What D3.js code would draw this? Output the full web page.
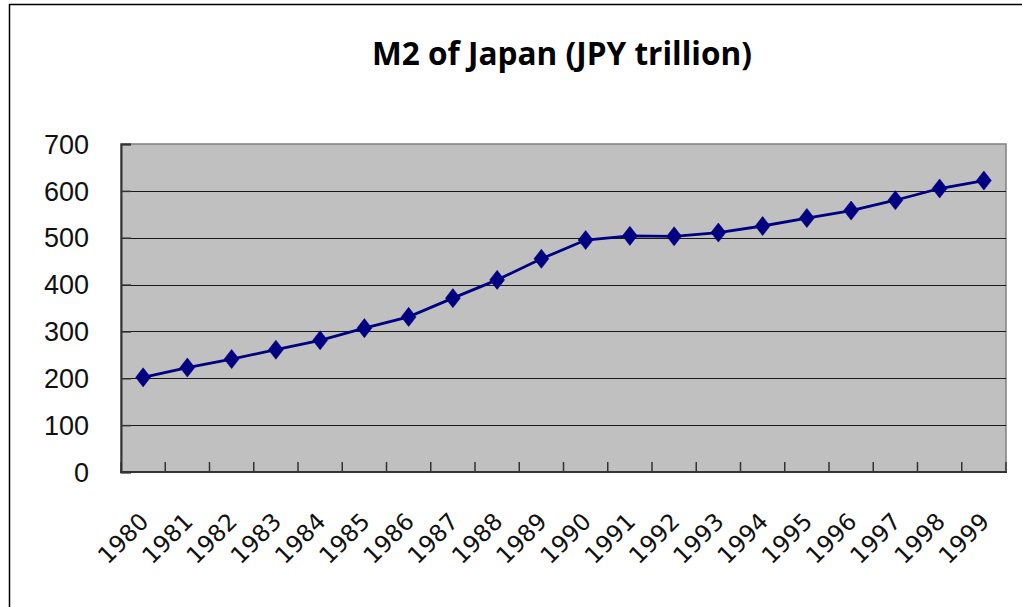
<!DOCTYPE html>
<html>
<head>
<meta charset="utf-8">
<script src="https://cdn.jsdelivr.net/npm/d3@7"></script>
<style>
  body { margin: 0; background: #fff; }
  svg { display: block; }
</style>
</head>
<body>
<svg width="1022" height="607"></svg>
<script>
(function() {
    const svg = d3.select('svg');
    const width  = +svg.attr('width');
    const height = +svg.attr('height');

    // data
    const years = ['1980', '1981', '1982', '1983', '1984', '1985', '1986', '1987', '1988', '1989',
                   '1990', '1991', '1992', '1993', '1994', '1995', '1996', '1997', '1998', '1999'];
    const m2 = [202, 223, 241, 261, 281, 307, 331, 371, 410, 455,
                495, 504, 503, 511, 525, 542, 558, 580, 605, 622];
    const yTicks = [0, 100, 200, 300, 400, 500, 600, 700];
    const title = 'M2 of Japan (JPY trillion)';

    const plot = { left: 121, top: 144, right: 1006, bottom: 472 };
    const navy = '#000080';

    // outer chart frame
    svg.append('rect')
        .attr('x', 9.5).attr('y', 4.5)
        .attr('width', width + 20).attr('height', height + 20)
        .attr('fill', 'none')
        .attr('stroke', '#000')
        .attr('stroke-width', 1.5);

    svg.append('text')
        .attr('x', 562).attr('y', 65)
        .attr('text-anchor', 'middle')
        .attr('font-family', 'Open Sans, sans-serif')
        .attr('font-weight', 'bold')
        .attr('font-size', 32)
        .attr('textLength', 380)
        .attr('lengthAdjust', 'spacingAndGlyphs')
        .text(title);

    const x = d3.scaleBand()
        .domain(years)
        .range([plot.left, plot.right]);

    const y = d3.scaleLinear()
        .domain([0, 700])
        .range([plot.bottom, plot.top]);

    svg.append('rect')
        .attr('x', plot.left).attr('y', plot.top)
        .attr('width', plot.right - plot.left)
        .attr('height', plot.bottom - plot.top)
        .attr('fill', '#c0c0c0')
        .attr('stroke', '#808080')
        .attr('stroke-width', 1.5);

    // gridlines
    svg.append('g')
        .selectAll('line')
        .data(yTicks.filter(d => d > 0 && d < 700))
        .enter()
        .append('line')
        .attr('x1', plot.left).attr('x2', plot.right)
        .attr('y1', d => Math.round(y(d)) + 0.5)
        .attr('y2', d => Math.round(y(d)) + 0.5)
        .attr('stroke', '#1a1a1a')
        .attr('stroke-width', 1.2);

    // y axis
    const yAxis = svg.append('g')
        .attr('transform', `translate(${plot.left},0)`)
        .call(d3.axisRight(y).tickValues(yTicks).tickSize(10).tickFormat(''));
    yAxis.select('.domain').attr('stroke', '#333').attr('stroke-width', 2);
    yAxis.selectAll('.tick line').attr('stroke', '#333').attr('stroke-width', 1.5);

    svg.append('g')
        .selectAll('text')
        .data(yTicks)
        .enter()
        .append('text')
        .attr('x', 89)
        .attr('y', d => y(d))
        .attr('dy', '0.36em')
        .attr('text-anchor', 'end')
        .attr('font-family', 'Liberation Sans, Arial, sans-serif')
        .attr('font-size', 27)
        .attr('fill', '#111')
        .text(d => d);

    // x axis: ticks between categories, pointing up
    const boundaries = years.map(d => x(d)).concat([plot.right]);
    const xAxis = svg.append('g');
    xAxis.append('line')
        .attr('x1', plot.left - 1).attr('x2', plot.right + 1)
        .attr('y1', plot.bottom).attr('y2', plot.bottom)
        .attr('stroke', '#333')
        .attr('stroke-width', 2);
    xAxis.selectAll('line.tick')
        .data(boundaries)
        .enter()
        .append('line')
        .attr('class', 'tick')
        .attr('x1', d => d).attr('x2', d => d)
        .attr('y1', plot.bottom).attr('y2', plot.bottom - 10)
        .attr('stroke', '#333')
        .attr('stroke-width', 1.5);

    svg.append('g')
        .selectAll('text')
        .data(years)
        .enter()
        .append('text')
        .attr('transform', d => `translate(${x(d) + x.bandwidth() / 2 + 1},517) rotate(-45)`)
        .attr('dy', '0.36em')
        .attr('text-anchor', 'end')
        .attr('font-family', 'DejaVu Sans, Verdana, sans-serif')
        .attr('font-size', 23.5)
        .attr('fill', '#111')
        .text(d => d);

    // series
    const pts = years.map((d, i) => ({ year: d, value: m2[i] }));
    const line = d3.line()
        .x(d => x(d.year) + x.bandwidth() / 2)
        .y(d => y(d.value));

    svg.append('path')
        .datum(pts)
        .attr('d', line)
        .attr('fill', 'none')
        .attr('stroke', navy)
        .attr('stroke-width', 2.8);

    const diamond = d3.symbol().type(d3.symbolDiamond).size(105);
    svg.append('g')
        .selectAll('path')
        .data(pts)
        .enter()
        .append('path')
        .attr('d', diamond)
        .attr('transform', d => `translate(${x(d.year) + x.bandwidth() / 2},${y(d.value)}) scale(1.35,1)`)
        .attr('fill', navy)
        .attr('stroke', navy)
        .attr('stroke-width', 0.5);
})()
</script>
</body>
</html>
